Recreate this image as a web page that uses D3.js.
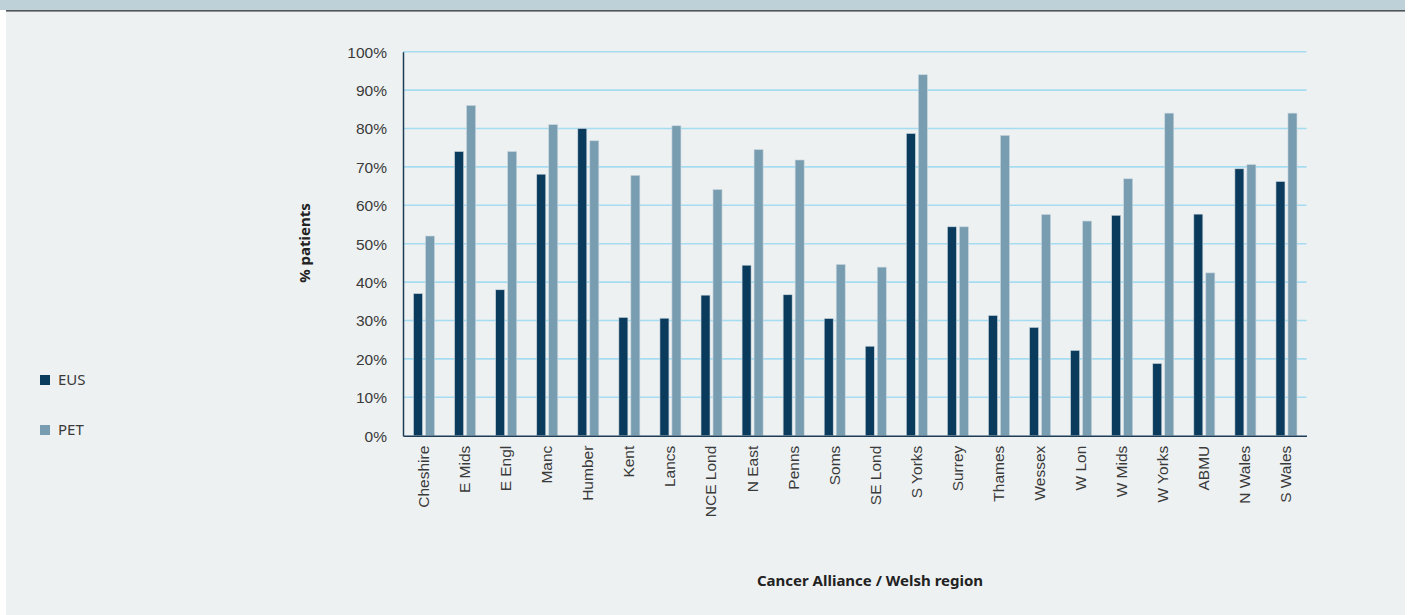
<!DOCTYPE html>
<html><head><meta charset="utf-8">
<script src="https://cdn.jsdelivr.net/npm/d3@7"></script>
<style>
html,body{margin:0;padding:0;background:#ffffff;}
svg{display:block;font-family:"Noto Sans","Open Sans",sans-serif;}
</style></head>
<body>
<svg id="chart" width="1410" height="615"></svg>
<script>
const categories = ["Cheshire","E Mids","E Engl","Manc","Humber","Kent","Lancs","NCE Lond","N East","Penns","Soms","SE Lond","S Yorks","Surrey","Thames","Wessex","W Lon","W Mids","W Yorks","ABMU","N Wales","S Wales"];
const eusValues = [37,74,38,68.1,80,30.8,30.6,36.6,44.4,36.7,30.5,23.3,78.7,54.4,31.3,28.2,22.2,57.4,18.8,57.7,69.5,66.2];
const petValues = [52,86,74,81,76.8,67.8,80.7,64.1,74.5,71.8,44.6,43.9,94,54.4,78.2,57.6,55.9,66.9,84,42.4,70.6,84];
const seriesNames = ["EUS","PET"];
const seriesColors = ["#0a3a5c","#789cb0"];
const yTicks = [0,10,20,30,40,50,60,70,80,90,100];

const svg = d3.select("#chart");
svg.append("rect").attr("x",0).attr("y",0).attr("width",1405).attr("height",10).attr("fill","#bed0d8");
svg.append("rect").attr("x",6).attr("y",10).attr("width",1399).attr("height",605).attr("fill","#edf1f2");
svg.append("rect").attr("x",6).attr("y",10).attr("width",1399).attr("height",1.6).attr("fill","#505558");

const x0 = 403, x1 = 1306.5, yTop = 51.7, yBot = 435.7;
const x = d3.scaleBand().domain(categories).range([x0,x1]);
const y = d3.scaleLinear().domain([0,100]).range([yBot,yTop]);

svg.append("g").selectAll("line").data(yTicks.filter(d=>d>0)).join("line")
  .attr("x1",x0).attr("x2",x1).attr("y1",d=>y(d)).attr("y2",d=>y(d))
  .attr("stroke","#a6dcf2").attr("stroke-width",1.6);

const barW = 9, gap = 3;
const data = categories.map((c,i)=>({c, vals:[eusValues[i],petValues[i]]}));
const g = svg.append("g");
data.forEach(d=>{
  const cx = x(d.c) + x.bandwidth()/2 + 0.5;
  d.vals.forEach((v,j)=>{
    const bx = j===0 ? cx - gap/2 - barW : cx + gap/2;
    g.append("rect").attr("x",bx).attr("y",y(v)).attr("width",barW).attr("height",yBot - y(v))
      .attr("fill",seriesColors[j]).attr("stroke","#c9d6de").attr("stroke-width",0.6);
  });
});

const yAxis = d3.axisLeft(y).tickValues(yTicks).tickFormat(d=>d+"%").tickSize(0).tickPadding(16);
const ya = svg.append("g").attr("transform",`translate(${x0},0)`).call(yAxis);
ya.select(".domain").attr("stroke","#1d3c55").attr("stroke-width",1.5);
ya.selectAll("text").attr("font-size",15.5).attr("fill","#3a3a3a").attr("dy","0.35em");

const xAxis = d3.axisBottom(x).tickSize(0).tickPadding(0);
const xa = svg.append("g").attr("transform",`translate(0,${yBot})`).call(xAxis);
xa.select(".domain").attr("stroke","#1d3c55").attr("stroke-width",1.5);
xa.selectAll(".tick text").attr("font-size",15.5).attr("fill","#3a3a3a")
  .attr("text-anchor","end").attr("dy","0.35em")
  .attr("transform","translate(0,10) rotate(-90)").attr("x",0).attr("y",0);

svg.append("text").attr("transform","translate(310,243) rotate(-90)")
  .attr("text-anchor","middle").attr("font-size",15).attr("font-weight","bold").attr("fill","#222").text("% patients");
svg.append("text").attr("x",870).attr("y",586).attr("text-anchor","middle")
  .attr("font-size",15).attr("font-weight","bold").attr("fill","#222").text("Cancer Alliance / Welsh region");

seriesNames.forEach((n,i)=>{
  const ly = 380 + i*50;
  svg.append("rect").attr("x",40).attr("y",ly-5).attr("width",10).attr("height",10).attr("fill",seriesColors[i]);
  svg.append("text").attr("x",58).attr("y",ly).attr("dy","0.35em").attr("font-size",15).attr("fill","#3a3a3a").text(n);
});
</script>
</body></html>
